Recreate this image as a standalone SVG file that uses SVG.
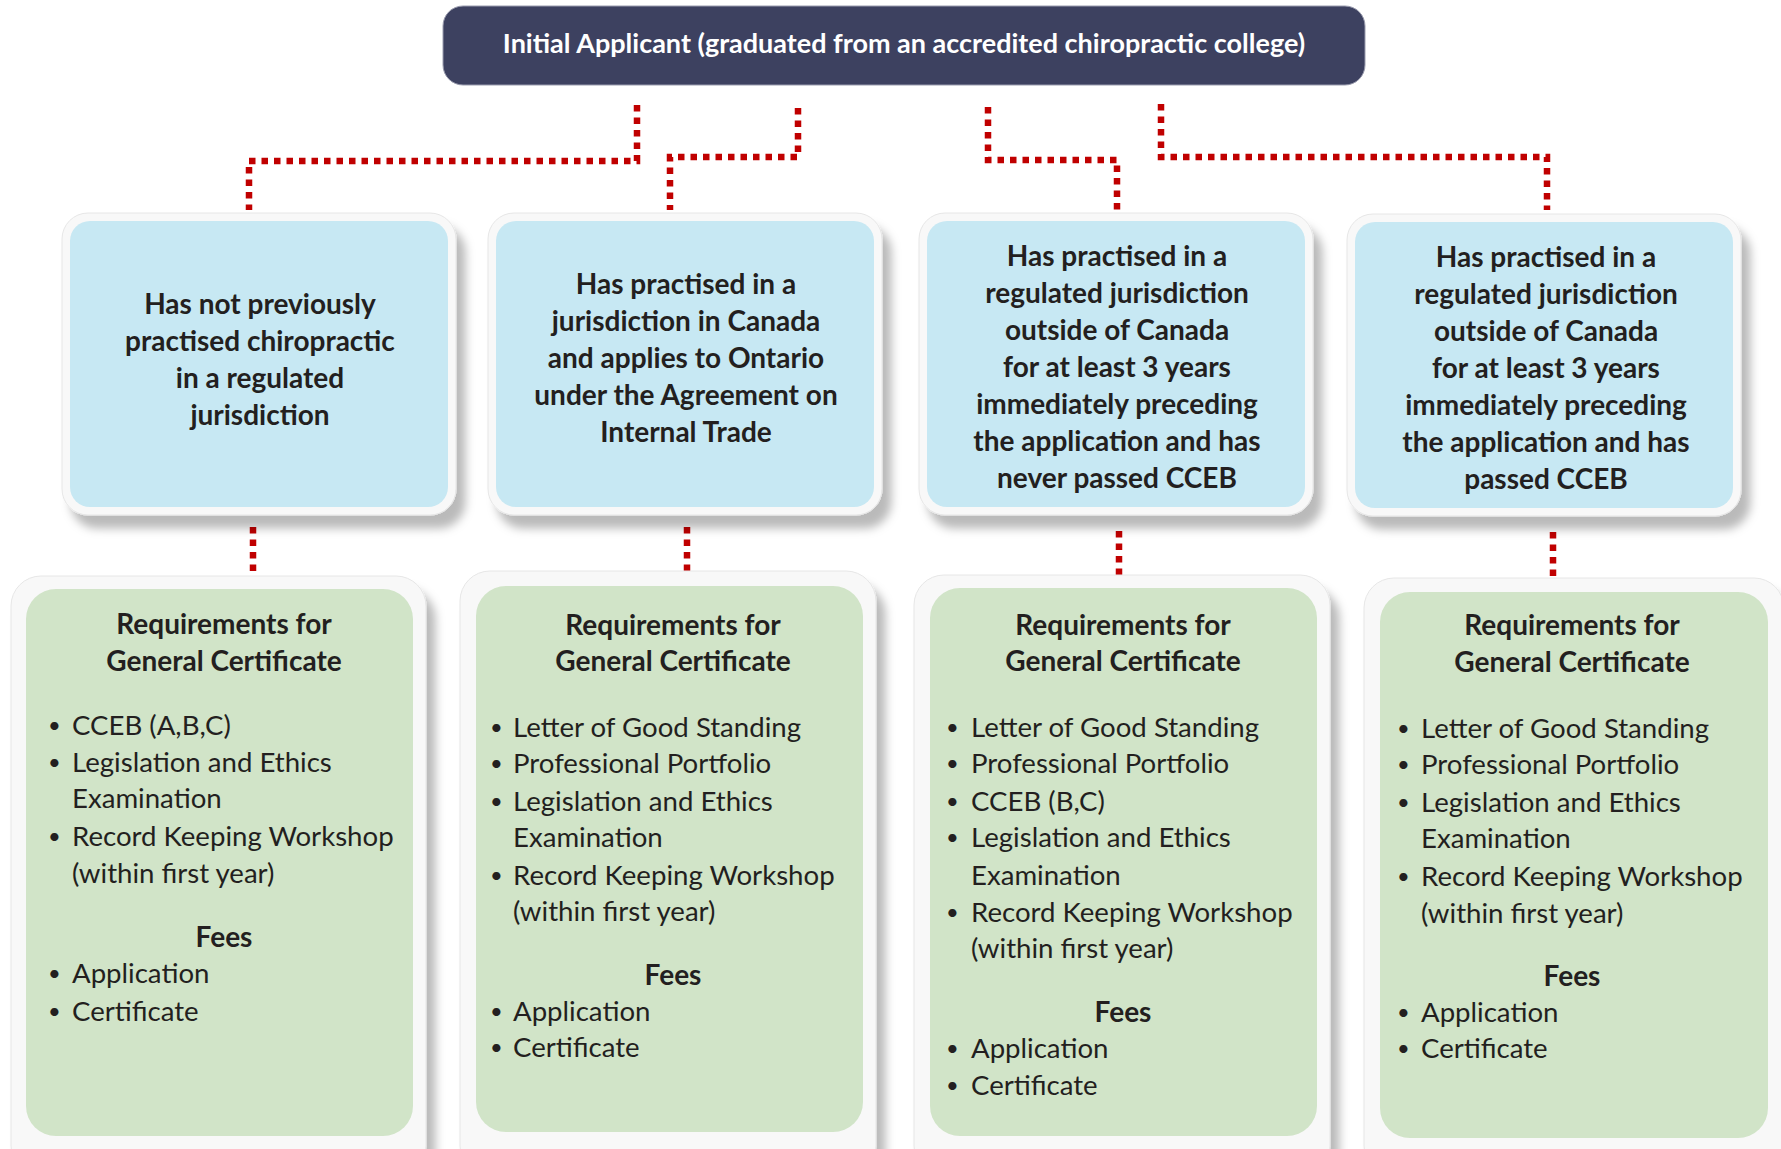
<svg xmlns="http://www.w3.org/2000/svg" width="1781" height="1149" viewBox="0 0 1781 1149">
<defs>
<filter id="sh" x="-10%" y="-10%" width="130%" height="130%">
<feDropShadow dx="9" dy="13" stdDeviation="5" flood-color="#000" flood-opacity="0.27"/>
</filter>
<style>
.frame{fill:#f8f8f8;stroke:#e6e6e6;stroke-width:1;filter:url(#sh)}
.blue{fill:#c7e8f3}
.green{fill:#d1e4c8}
.bt{font-family:Lato,"Open Sans",sans-serif;font-weight:bold;font-size:28px;fill:#231f20;text-anchor:middle}
.rt{font-family:Lato,"Open Sans",sans-serif;font-size:27.6px;fill:#231f20}
.bu{font-family:Lato,"Open Sans",sans-serif;font-size:22px;fill:#231f20}
.tt{font-family:Lato,"Open Sans",sans-serif;font-weight:bold;font-size:28px;fill:#231f20;text-anchor:middle}
.conn{fill:none;stroke:#c00000;stroke-width:6.5;stroke-dasharray:6.5 6}
</style>
</defs>
<rect width="1781" height="1149" fill="#ffffff"/>

<g id="connectors">
<path class="conn" d="M637,105 V161 H249 V210"/>
<path class="conn" d="M798,108 V157 H670 V210"/>
<path class="conn" d="M988,107 V160 H1117 V210"/>
<path class="conn" d="M1161,104 V157 H1547 V210"/>
<path class="conn" d="M253,527 V573"/>
<path class="conn" d="M687,527 V573"/>
<path class="conn" d="M1119,531 V576"/>
<path class="conn" d="M1553,532 V576"/>
</g>

<g id="initial">
<rect x="443" y="6" width="922" height="79" rx="20" fill="#3d4160" stroke="#9a9cae" stroke-width="1"/>
<text x="904" y="53" font-family="Lato,'Open Sans',sans-serif" font-weight="bold" font-size="27" fill="#ffffff" text-anchor="middle">Initial Applicant (graduated from an accredited chiropractic college)</text>
</g>

<g id="cond1">
<rect class="frame" x="62" y="213" width="394" height="302" rx="26"/>
<rect class="blue" x="70" y="221" width="378" height="286" rx="20"/>
<text class="bt"><tspan x="260" y="314">Has not previously</tspan><tspan x="260" y="351">practised chiropractic</tspan><tspan x="260" y="388">in a regulated</tspan><tspan x="260" y="425">jurisdiction</tspan></text>
</g>

<g id="cond2">
<rect class="frame" x="488" y="213" width="394" height="302" rx="26"/>
<rect class="blue" x="496" y="221" width="378" height="286" rx="20"/>
<text class="bt"><tspan x="686" y="294">Has practised in a</tspan><tspan x="686" y="331">jurisdiction in Canada</tspan><tspan x="686" y="368">and applies to Ontario</tspan><tspan x="686" y="405">under the Agreement on</tspan><tspan x="686" y="442">Internal Trade</tspan></text>
</g>

<g id="cond3">
<rect class="frame" x="919" y="213" width="394" height="302" rx="26"/>
<rect class="blue" x="927" y="221" width="378" height="286" rx="20"/>
<text class="bt"><tspan x="1117" y="266">Has practised in a</tspan><tspan x="1117" y="303">regulated jurisdiction</tspan><tspan x="1117" y="340">outside of Canada</tspan><tspan x="1117" y="377">for at least 3 years</tspan><tspan x="1117" y="414">immediately preceding</tspan><tspan x="1117" y="451">the application and has</tspan><tspan x="1117" y="488">never passed CCEB</tspan></text>
</g>

<g id="cond4">
<rect class="frame" x="1347" y="214" width="394" height="302" rx="26"/>
<rect class="blue" x="1355" y="222" width="378" height="286" rx="20"/>
<text class="bt"><tspan x="1546" y="267">Has practised in a</tspan><tspan x="1546" y="304">regulated jurisdiction</tspan><tspan x="1546" y="341">outside of Canada</tspan><tspan x="1546" y="378">for at least 3 years</tspan><tspan x="1546" y="415">immediately preceding</tspan><tspan x="1546" y="452">the application and has</tspan><tspan x="1546" y="489">passed CCEB</tspan></text>
</g>

<g id="req1">
<rect class="frame" x="11" y="576" width="415" height="600" rx="30"/>
<rect class="green" x="26" y="589" width="387" height="547" rx="30"/>
<text class="tt"><tspan x="224" y="634">Requirements for</tspan><tspan x="224" y="671">General Certificate</tspan><tspan x="224" y="947">Fees</tspan></text>
<text class="bu"><tspan x="48" y="733">•</tspan><tspan x="48" y="770">•</tspan><tspan x="48" y="844">•</tspan><tspan x="48" y="981">•</tspan><tspan x="48" y="1019">•</tspan></text>
<text class="rt"><tspan x="72" y="735">CCEB (A,B,C)</tspan><tspan x="72" y="772">Legislation and Ethics</tspan><tspan x="72" y="808">Examination</tspan><tspan x="72" y="846">Record Keeping Workshop</tspan><tspan x="72" y="883">(within first year)</tspan><tspan x="72" y="983">Application</tspan><tspan x="72" y="1021">Certificate</tspan></text>
</g>

<g id="req2">
<rect class="frame" x="460" y="571" width="416" height="605" rx="30"/>
<rect class="green" x="476" y="586" width="387" height="546" rx="30"/>
<text class="tt"><tspan x="673" y="635">Requirements for</tspan><tspan x="673" y="671">General Certificate</tspan><tspan x="673" y="985">Fees</tspan></text>
<text class="bu"><tspan x="490" y="735">•</tspan><tspan x="490" y="771">•</tspan><tspan x="490" y="809">•</tspan><tspan x="490" y="883">•</tspan><tspan x="490" y="1019">•</tspan><tspan x="490" y="1055">•</tspan></text>
<text class="rt"><tspan x="513" y="737">Letter of Good Standing</tspan><tspan x="513" y="773">Professional Portfolio</tspan><tspan x="513" y="811">Legislation and Ethics</tspan><tspan x="513" y="847">Examination</tspan><tspan x="513" y="885">Record Keeping Workshop</tspan><tspan x="513" y="921">(within first year)</tspan><tspan x="513" y="1021">Application</tspan><tspan x="513" y="1057">Certificate</tspan></text>
</g>

<g id="req3">
<rect class="frame" x="914" y="575" width="416" height="601" rx="30"/>
<rect class="green" x="930" y="588" width="387" height="548" rx="30"/>
<text class="tt"><tspan x="1123" y="635">Requirements for</tspan><tspan x="1123" y="671">General Certificate</tspan><tspan x="1123" y="1022">Fees</tspan></text>
<text class="bu"><tspan x="946" y="735">•</tspan><tspan x="946" y="771">•</tspan><tspan x="946" y="809">•</tspan><tspan x="946" y="845">•</tspan><tspan x="946" y="920">•</tspan><tspan x="946" y="1056">•</tspan><tspan x="946" y="1093">•</tspan></text>
<text class="rt"><tspan x="971" y="737">Letter of Good Standing</tspan><tspan x="971" y="773">Professional Portfolio</tspan><tspan x="971" y="811">CCEB (B,C)</tspan><tspan x="971" y="847">Legislation and Ethics</tspan><tspan x="971" y="885">Examination</tspan><tspan x="971" y="922">Record Keeping Workshop</tspan><tspan x="971" y="958">(within first year)</tspan><tspan x="971" y="1058">Application</tspan><tspan x="971" y="1095">Certificate</tspan></text>
</g>

<g id="req4">
<rect class="frame" x="1364" y="578" width="420" height="598" rx="30"/>
<rect class="green" x="1380" y="592" width="388" height="546" rx="30"/>
<text class="tt"><tspan x="1572" y="635">Requirements for</tspan><tspan x="1572" y="672">General Certificate</tspan><tspan x="1572" y="986">Fees</tspan></text>
<text class="bu"><tspan x="1397" y="736">•</tspan><tspan x="1397" y="772">•</tspan><tspan x="1397" y="810">•</tspan><tspan x="1397" y="884">•</tspan><tspan x="1397" y="1020">•</tspan><tspan x="1397" y="1056">•</tspan></text>
<text class="rt"><tspan x="1421" y="738">Letter of Good Standing</tspan><tspan x="1421" y="774">Professional Portfolio</tspan><tspan x="1421" y="812">Legislation and Ethics</tspan><tspan x="1421" y="848">Examination</tspan><tspan x="1421" y="886">Record Keeping Workshop</tspan><tspan x="1421" y="923">(within first year)</tspan><tspan x="1421" y="1022">Application</tspan><tspan x="1421" y="1058">Certificate</tspan></text>
</g>
</svg>
